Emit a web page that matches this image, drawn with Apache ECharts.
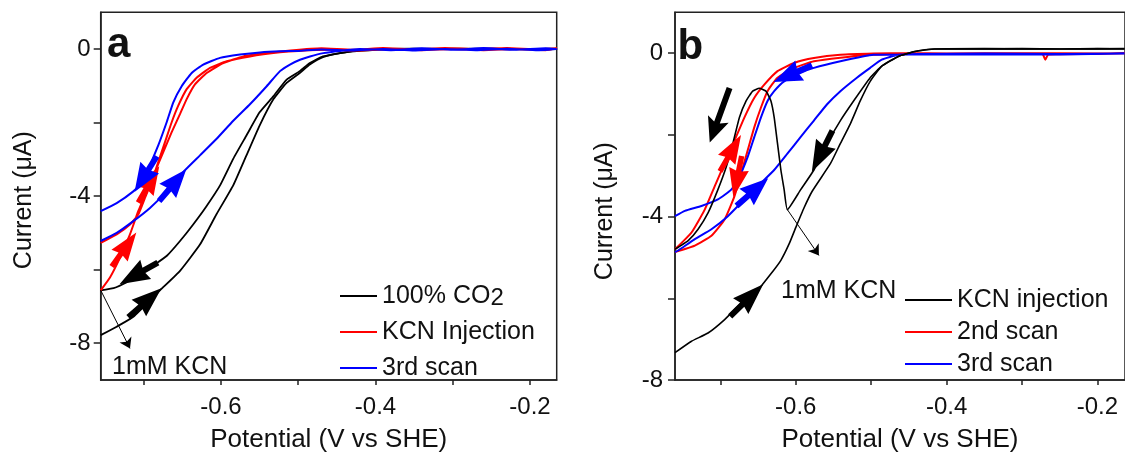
<!DOCTYPE html>
<html><head><meta charset="utf-8">
<script src="https://cdn.jsdelivr.net/npm/echarts@6/dist/echarts.min.js"></script>
<style>html,body{margin:0;padding:0;background:#fff}#c{width:1125px;height:458px}</style>
</head><body><div id="c"></div>
<script>
// ---------- Panel a data (Potential V vs SHE, Current µA) ----------
const a_co2_fwd = [[-0.165,0.0],[-0.2,-0.01],[-0.25,0.01],[-0.3,0.0],[-0.35,0.01],[-0.40,0.0],[-0.425,-0.04],[-0.446,-0.11],[-0.468,-0.20],[-0.485,-0.38],[-0.498,-0.60],[-0.515,-0.83],[-0.532,-1.28],[-0.550,-1.72],[-0.567,-2.35],[-0.584,-2.98],[-0.601,-3.70],[-0.619,-4.28],[-0.636,-4.77],[-0.653,-5.22],[-0.670,-5.62],[-0.688,-5.89],[-0.705,-6.12],[-0.722,-6.34],[-0.739,-6.50],[-0.7557,-6.56]];
const a_co2_rev = [[-0.7557,-7.78],[-0.735,-7.55],[-0.7135,-7.28],[-0.679,-6.56],[-0.653,-6.03],[-0.627,-5.31],[-0.606,-4.50],[-0.584,-3.70],[-0.567,-2.89],[-0.550,-2.08],[-0.532,-1.36],[-0.515,-0.92],[-0.498,-0.65],[-0.485,-0.42],[-0.468,-0.22],[-0.446,-0.11],[-0.42,-0.05],[-0.38,0.0],[-0.3,0.01],[-0.2,0.0],[-0.165,0.01]];
const a_kcn = [[-0.7557,-6.56],[-0.7437,-6.21],[-0.7307,-5.67],[-0.7178,-5.04],[-0.7071,-4.41],[-0.6962,-3.87],[-0.6854,-3.34],[-0.6747,-2.80],[-0.6638,-2.26],[-0.6531,-1.77],[-0.6444,-1.36],[-0.6337,-0.96],[-0.6185,-0.65],[-0.597,-0.38],[-0.571,-0.20],[-0.541,-0.11],[-0.51,-0.04],[-0.47,0.02],[-0.43,-0.02],[-0.39,0.03],[-0.35,-0.01],[-0.31,0.03],[-0.27,0.0],[-0.23,0.03],[-0.19,-0.01],[-0.165,0.02],
  [-0.18,-0.03],[-0.22,0.0],[-0.26,-0.03],[-0.30,0.0],[-0.34,-0.03],[-0.38,0.0],[-0.42,-0.04],[-0.46,-0.02],[-0.50,-0.05],[-0.5236,-0.09],[-0.5625,-0.20],[-0.5926,-0.33],[-0.6142,-0.51],[-0.6315,-0.78],[-0.6444,-1.09],[-0.6553,-1.54],[-0.6638,-1.99],[-0.6725,-2.53],[-0.6812,-3.07],[-0.6897,-3.60],[-0.6984,-4.05],[-0.7071,-4.50],[-0.7178,-4.77],[-0.735,-5.04],[-0.7557,-5.27]];
const a_scan3 = [[-0.7557,-5.22],[-0.735,-5.00],[-0.7135,-4.68],[-0.6919,-4.32],[-0.6703,-3.87],[-0.6488,-3.34],[-0.6272,-2.89],[-0.6056,-2.44],[-0.5841,-1.95],[-0.5625,-1.50],[-0.5408,-1.01],[-0.5236,-0.60],[-0.5107,-0.42],[-0.4977,-0.29],[-0.4848,-0.20],[-0.4676,-0.11],[-0.446,-0.05],[-0.42,0.0],[-0.38,-0.03],[-0.34,0.02],[-0.30,-0.02],[-0.26,0.03],[-0.22,-0.02],[-0.18,0.02],[-0.165,0.0],
  [-0.19,-0.03],[-0.23,0.01],[-0.27,-0.03],[-0.31,0.0],[-0.35,-0.04],[-0.39,0.0],[-0.43,-0.04],[-0.47,-0.01],[-0.50,-0.05],[-0.5236,-0.06],[-0.5495,-0.09],[-0.5754,-0.15],[-0.6013,-0.24],[-0.6229,-0.42],[-0.6379,-0.65],[-0.6509,-1.01],[-0.6617,-1.45],[-0.6703,-1.99],[-0.6812,-2.62],[-0.6919,-3.16],[-0.7006,-3.60],[-0.7135,-3.87],[-0.735,-4.19],[-0.7557,-4.41]];
// direction arrows: [potential, current, rotation deg]
const arrowsA_black = [[-0.7065,-6.10,119.5],[-0.6985,-6.90,-48.7]];
const arrowsA_red = [[-0.7255,-5.45,-35.8],[-0.6935,-3.68,-30]];
const arrowsA_blue = [[-0.6975,-3.40,148],[-0.6625,-3.70,-40.4]];
const kcnArrowA = [[-0.7557,-6.56],[-0.7178,-8.14]];

// ---------- Panel b data ----------
const b_kcn_1 = [[-0.164,0.10],[-0.2,0.11],[-0.25,0.10],[-0.3,0.11],[-0.35,0.10],[-0.40,0.10],[-0.4158,0.10],[-0.4421,0.04],[-0.4641,-0.08],[-0.486,-0.32],[-0.5013,-0.60],[-0.5233,-1.17],[-0.5408,-1.65],[-0.5584,-2.21],[-0.5759,-2.86],[-0.5934,-3.34],[-0.6111,-3.83],
  [-0.6154,-3.34],[-0.6197,-2.86],[-0.6242,-2.21],[-0.6286,-1.57],[-0.6329,-1.17],[-0.6395,-0.93],[-0.6483,-0.86],[-0.6571,-0.93],[-0.6658,-1.17],[-0.6746,-1.57],[-0.6834,-2.21],[-0.6921,-2.78],[-0.7032,-3.34],[-0.7163,-3.91],[-0.7295,-4.31],[-0.7426,-4.59],[-0.7558,-4.75],[-0.7601,-4.80]];
const b_kcn_2 = [[-0.7601,-7.33],[-0.7382,-7.05],[-0.7163,-6.85],[-0.6943,-6.52],[-0.6724,-6.12],[-0.6505,-5.80],[-0.6329,-5.40],[-0.6197,-5.07],[-0.6088,-4.67],[-0.6,-4.27],[-0.5891,-3.79],[-0.5782,-3.38],[-0.5539,-2.70],[-0.5408,-2.21],[-0.5276,-1.73],[-0.5145,-1.17],[-0.5013,-0.69],[-0.486,-0.32],[-0.4641,-0.08],[-0.4421,0.04],[-0.4158,0.10],[-0.35,0.11],[-0.25,0.10],[-0.164,0.11]];
const b_scan2 = [[-0.7601,-4.80],[-0.7382,-4.39],[-0.7207,-3.83],[-0.7075,-3.26],[-0.6943,-2.70],[-0.6812,-2.14],[-0.668,-1.57],[-0.6549,-1.09],[-0.6417,-0.77],[-0.6242,-0.44],[-0.6022,-0.24],[-0.5759,-0.12],[-0.5408,-0.04],[-0.497,-0.01],[-0.45,0.0],[-0.40,-0.01],[-0.30,0.0],[-0.20,-0.01],[-0.164,0.0],
  [-0.20,-0.02],[-0.265,-0.03],[-0.269,-0.16],[-0.273,-0.02],[-0.35,-0.02],[-0.45,-0.02],[-0.497,-0.04],[-0.5408,-0.11],[-0.5759,-0.20],[-0.6022,-0.36],[-0.6242,-0.60],[-0.6374,-0.93],[-0.6461,-1.33],[-0.6549,-1.81],[-0.6637,-2.38],[-0.6724,-2.94],[-0.6812,-3.50],[-0.6943,-4.07],[-0.7118,-4.47],[-0.7338,-4.71],[-0.7601,-4.87]];
const b_scan3 = [[-0.7601,-4.87],[-0.7558,-4.83],[-0.7338,-4.55],[-0.7118,-4.31],[-0.69,-3.99],[-0.668,-3.58],[-0.6461,-3.18],[-0.6286,-2.86],[-0.6111,-2.46],[-0.5934,-2.05],[-0.5759,-1.65],[-0.5584,-1.25],[-0.5408,-0.93],[-0.5189,-0.60],[-0.5013,-0.36],[-0.486,-0.16],[-0.4641,-0.04],[-0.4378,-0.02],[-0.35,-0.01],[-0.25,-0.02],[-0.164,-0.01],
  [-0.25,-0.03],[-0.35,-0.03],[-0.45,-0.03],[-0.497,-0.04],[-0.5408,-0.20],[-0.5759,-0.36],[-0.5934,-0.48],[-0.6154,-0.69],[-0.6286,-0.93],[-0.6374,-1.17],[-0.6461,-1.57],[-0.6549,-2.05],[-0.6637,-2.54],[-0.6746,-3.02],[-0.6855,-3.34],[-0.7032,-3.58],[-0.725,-3.74],[-0.747,-3.86],[-0.7601,-3.99]];
const arrowsB_black = [[-0.5650,-2.40,153.4],[-0.665,-6.05,-46]];
const arrowsB_bigBlack = [[-0.7009,-1.52,160]];
const arrowsB_red = [[-0.6865,-2.45,-30],[-0.6772,-3.02,168.6]];
const arrowsB_blue = [[-0.6575,-3.40,-48.9],[-0.6040,-0.50,113.7]];
const kcnArrowB = [[-0.6111,-3.83],[-0.5693,-4.95]];

// ---------- ticks / labels ----------
const xTicks = [-0.7,-0.6,-0.5,-0.4,-0.3,-0.2];
const xLabels = [-0.6,-0.4,-0.2];
const yTicks = [-8,-6,-4,-2,0];
const yLabels = [-8,-4,0];
const legendA = ['100% CO2','KCN Injection','3rd scan'];
const legendB = ['KCN injection','2nd scan','3rd scan'];

const FONT = '"Liberation Sans", Arial, Helvetica, sans-serif';
const AX = '#222';
const TXT = '#111';
const ARROW = 'path://M11,0 L22,30 L14,28 L14,44 L8,44 L8,28 L0,30 Z';
const BIGARROW = 'path://M11,0 L22,26 L14,22 L14,60 L8,60 L8,22 L0,26 Z';

function xAxisDef(grid, min, max){
  return {gridIndex:grid, type:'value', min:min, max:max,
    name:'Potential (V vs SHE)', nameLocation:'middle', nameGap:47,
    nameTextStyle:{fontSize:26, color:TXT, fontFamily:FONT},
    axisLine:{show:true, onZero:false, lineStyle:{color:AX, width:1.5}},
    axisTick:{show:true, customValues:xTicks, length:5, inside:false, lineStyle:{color:AX, width:1.5}},
    axisLabel:{show:true, customValues:xLabels, margin:15, fontSize:24, color:TXT, fontFamily:FONT},
    splitLine:{show:false}};
}
function yAxisDef(grid, min, max, gap, pad, margin){
  return {gridIndex:grid, type:'value', min:min, max:max,
    name:'Current (\u03bcA)', nameLocation:'middle', nameGap:gap,
    nameTextStyle:{fontSize:25, color:TXT, fontFamily:FONT, padding:pad},
    axisLine:{show:true, onZero:false, lineStyle:{color:AX, width:1.5}},
    axisTick:{show:true, customValues:yTicks, length:7, inside:false, lineStyle:{color:AX, width:1.5}},
    axisLabel:{show:true, customValues:yLabels, margin:margin, fontSize:24, color:TXT, fontFamily:FONT},
    splitLine:{show:false}};
}
function lineS(name, data, color, xi, extra){
  return Object.assign({type:'line', name:name, data:data, xAxisIndex:xi, yAxisIndex:xi,
    color:color, showSymbol:false, symbol:'none', smooth:0.15,
    lineStyle:{color:color, width:2}, emphasis:{disabled:true}, silent:true, z:2}, extra||{});
}
function arrowS(data, color, xi, sym, size){
  return {type:'scatter', data:data, xAxisIndex:xi, yAxisIndex:xi,
    symbol:sym, symbolSize:size, symbolKeepAspect:false,
    symbolRotate:function(v){return v[2];},
    itemStyle:{color:color, opacity:1}, silent:true, emphasis:{disabled:true}, z:5};
}
function thinArrow(pts){
  return {silent:true, symbol:['none','arrow'], symbolSize:10, animation:false,
    lineStyle:{color:'#000', width:1, type:'solid'}, label:{show:false}, emphasis:{disabled:true},
    data:[[{coord:pts[0]},{coord:pts[1]}]]};
}
function legendDef(data, left, top, w, gap){
  return {data:data, orient:'vertical', left:left, top:top, itemWidth:w, itemHeight:2, itemGap:gap,
    icon:'rect', selectedMode:false, padding:0,
    formatter:function(n){return n==='100% CO2' ? '100% CO{sub|2}' : n;},
    textStyle:{fontSize:25, color:TXT, fontFamily:FONT, lineHeight:28,
      rich:{sub:{fontSize:24, color:TXT, fontFamily:FONT, lineHeight:12, verticalAlign:'bottom'}}}};
}
function txt(t, x, y, font){
  return {type:'text', x:x, y:y, silent:true,
    style:{text:t, fill:TXT, font:font, textAlign:'left', textVerticalAlign:'middle', align:'left', verticalAlign:'middle'}};
}

const chart = echarts.init(document.getElementById('c'), null, {renderer:'canvas'});
chart.setOption({
  animation:false,
  backgroundColor:'#fff',
  grid:[
    {left:100.7, top:12.3, width:456, height:372, show:true, borderColor:AX, borderWidth:1.5, backgroundColor:'transparent'},
    {left:675, top:12.3, width:453.4, height:372, show:true, borderColor:AX, borderWidth:1.5, backgroundColor:'transparent'}
  ],
  xAxis:[xAxisDef(0,-0.7557,-0.1654), xAxisDef(1,-0.7601,-0.1634)],
  yAxis:[yAxisDef(0,-9,1,64,[0,8,0,0],10), yAxisDef(1,-8,1,57,[0,30,0,0],12)],
  legend:[legendDef(legendA,340,282,37,8), legendDef(legendB,905,286,47,4)],
  series:[
    lineS('100% CO2', a_co2_fwd, '#000000', 0, {lineStyle:{color:'#000', width:1.8}}),
    lineS('100% CO2', a_co2_rev, '#000000', 0, {lineStyle:{color:'#000', width:1.8}, markLine:thinArrow(kcnArrowA)}),
    lineS('KCN Injection', a_kcn, '#ff0000', 0),
    lineS('3rd scan', a_scan3, '#0000ff', 0),
    arrowS(arrowsA_black, '#000000', 0, ARROW, [22,44]),
    arrowS(arrowsA_red, '#ff0000', 0, ARROW, [20,42]),
    arrowS(arrowsA_blue, '#0000ff', 0, ARROW, [22,42]),
    lineS('2nd scan', b_scan2, '#ff0000', 1),
    lineS('3rd scan', b_scan3, '#0000ff', 1),
    lineS('KCN injection', b_kcn_1, '#000000', 1, {lineStyle:{color:'#000', width:1.6}}),
    lineS('KCN injection', b_kcn_2, '#000000', 1, {lineStyle:{color:'#000', width:1.6}, markLine:thinArrow(kcnArrowB)}),
    arrowS(arrowsB_black, '#000000', 1, ARROW, [22,46]),
    arrowS(arrowsB_bigBlack, '#000000', 1, BIGARROW, [22,58]),
    arrowS(arrowsB_red, '#ff0000', 1, ARROW, [20,42]),
    arrowS(arrowsB_blue, '#0000ff', 1, ARROW, [22,42])
  ],
  graphic:[
    txt('a', 107, 45, 'bold 42px ' + FONT),
    txt('b', 677.5, 47.4, 'bold 42px ' + FONT),
    txt('1mM KCN', 112, 367.5, '25px ' + FONT),
    txt('1mM KCN', 781, 291.5, '25px ' + FONT)
  ]
});
</script>
</body></html>
